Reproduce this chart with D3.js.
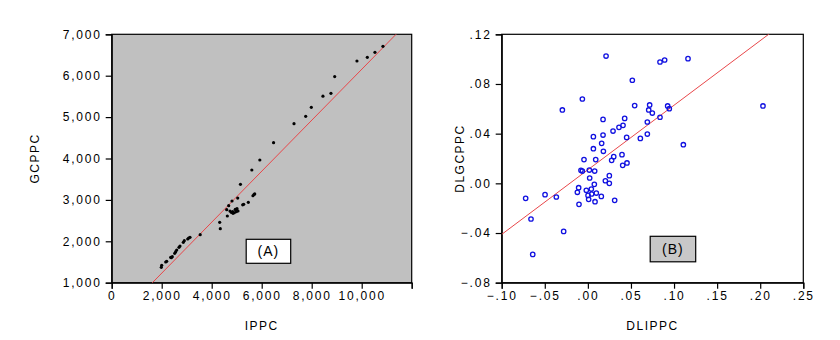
<!DOCTYPE html>
<html>
<head>
<meta charset="utf-8">
<script src="https://cdn.jsdelivr.net/npm/d3@7"></script>
<style>
  body { margin: 0; background: #fff; }
  text { font-family: "Liberation Sans", Arial, sans-serif; fill: #000; }
</style>
</head>
<body>
<div id="chart"></div>
<script>
// Panel A: IPPC (x) vs GCPPC (y)
const ippc = [10850, 10530, 10225, 9810, 8920, 8770, 8450, 7985, 7760, 7292, 6475, 5925, 5605, 5150,
  5690, 5650, 5720, 5465, 5280, 5240, 5040, 4812, 4680, 4600, 4625, 4732, 4784, 4852, 4904, 4960,
  5012, 4984, 5052, 4944, 4840, 4320, 4344, 3540, 3132, 3080, 3040, 2904, 2864, 2732, 2692, 2600,
  2560, 2520, 2424, 2384, 2360, 2200, 2160, 2000, 1984];
const gcppc = [6710, 6565, 6445, 6355, 5980, 5575, 5505, 5236, 5018, 4840, 4382, 3964, 3722, 3376,
  3130, 3100, 3145, 2941, 2893, 2880, 3045, 2973, 2860, 2763, 2611, 2732, 2700, 2676, 2690, 2756,
  2787, 2715, 2732, 2772, 2715, 2459, 2304, 2159, 2096, 2080, 2055, 2014, 1976, 1886, 1855, 1790,
  1749, 1710, 1628, 1604, 1613, 1517, 1500, 1420, 1372];
const fitA = { intercept: -2, slope: 0.6156 };
const xTicksA = [0, 2000, 4000, 6000, 8000, 10000, 12000];
const yTicksA = [1000, 2000, 3000, 4000, 5000, 6000, 7000];

// Panel B: DLIPPC (x) vs DLGCPPC (y)
const dlippc = [0.0211, 0.0837, 0.0891, 0.1162, 0.0516, -0.0064, -0.0296, 0.0543, 0.0717, 0.0706,
  0.0748, 0.0926, 0.0945, 0.0837, 0.2032, 0.0176, 0.0427, 0.0690, 0.0408, 0.0361, 0.0292, 0.0176,
  0.0064, 0.0450, 0.0609, 0.0690, 0.1108, 0.0160, 0.0064, 0.0180, 0.0396, 0.0300, 0.0276, -0.0045,
  0.0091, 0.0404, 0.0454, -0.0080, -0.0064, 0.0017, 0.0079, 0.0021, 0.0249, 0.0203, 0.0249, 0.0075,
  -0.0107, -0.0122, -0.0018, 0.0040, 0.0098, 0.0044, 0.0002, 0.0156, 0.0009, 0.0083, 0.0311,
  -0.0103, -0.0497, -0.0366, -0.0722, -0.0660, -0.0281, -0.0640];
const dlgcppc = [0.1025, 0.0977, 0.0993, 0.1004, 0.0830, 0.0679, 0.0591, 0.0626, 0.0631, 0.0591,
  0.0566, 0.0623, 0.0601, 0.0532, 0.0623, 0.0515, 0.0523, 0.0494, 0.0467, 0.0451, 0.0421, 0.0389,
  0.0376, 0.0370, 0.0362, 0.0397, 0.0311, 0.0322, 0.0279, 0.0258, 0.0231, 0.0215, 0.0185, 0.0191,
  0.0191, 0.0145, 0.0164, 0.0105, 0.0099, 0.0107, 0.0099, 0.0043, 0.0062, 0.0021, 0.0000, -0.0008,
  -0.0035, -0.0072, -0.0056, -0.0046, -0.0078, -0.0086, -0.0097, -0.0105, -0.0129, -0.0148, -0.0137,
  -0.0169, -0.0091, -0.0110, -0.0121, -0.0287, -0.0387, -0.0572];
const fitB = { intercept: 0.0109, slope: 0.52 };
const xTicksB = [-0.10, -0.05, 0.00, 0.05, 0.10, 0.15, 0.20, 0.25];
const yTicksB = [-0.08, -0.04, 0.00, 0.04, 0.08, 0.12];

const svg = d3.select('#chart').append('svg')
  .attr('width', 840)
  .attr('height', 340);

const commaFmt = d3.format(',');
const decFmt = v => d3.format('.2f')(v).replace('0.', '.');

function drawPanel(opt) {
  const { left, top, width, height } = opt;
  const g = svg.append('g').attr('transform', `translate(${left},${top})`);

  const x = d3.scaleLinear().domain(opt.xDomain).range([0, width]);
  const y = d3.scaleLinear().domain(opt.yDomain).range([height, 0]);

  // plot background and frame
  g.append('rect')
    .attr('width', width)
    .attr('height', height)
    .attr('fill', opt.bg)
    .attr('stroke', '#000')
    .attr('stroke-width', 1.2);

  const clipId = 'clip-' + opt.id;
  g.append('clipPath').attr('id', clipId)
    .append('rect').attr('width', width).attr('height', height);

  // axes
  const xAxis = g.append('g')
    .attr('transform', `translate(0,${height})`)
    .call(d3.axisBottom(x).tickValues(opt.xTicks).tickSize(6).tickPadding(3)
      .tickFormat(opt.xLabelFn));
  const yAxis = g.append('g')
    .call(d3.axisLeft(y).tickValues(opt.yTicks).tickSize(6).tickPadding(4)
      .tickFormat(opt.yFmt));
  [xAxis, yAxis].forEach(a => {
    a.select('.domain').attr('stroke-width', 1.2);
    a.selectAll('line').attr('stroke-width', 1.2);
    a.selectAll('text')
      .style('font-family', '"Liberation Sans", Arial, sans-serif')
      .style('font-size', '12px')
      .style('letter-spacing', '1.8px');
  });

  // regression line
  const [x0, x1] = opt.xDomain;
  g.append('line')
    .attr('clip-path', `url(#${clipId})`)
    .attr('x1', x(x0)).attr('y1', y(opt.fit.intercept + opt.fit.slope * x0))
    .attr('x2', x(x1)).attr('y2', y(opt.fit.intercept + opt.fit.slope * x1))
    .attr('stroke', '#e8474a')
    .attr('stroke-width', 1);

  // points
  const pts = d3.zip(opt.xs, opt.ys);
  const dots = g.append('g').selectAll('circle')
    .data(pts)
    .enter()
    .append('circle')
    .attr('cx', d => x(d[0]))
    .attr('cy', d => y(d[1]));
  opt.styleDots(dots);

  // annotation box
  const b = opt.box;
  g.append('rect')
    .attr('x', b.x).attr('y', b.y)
    .attr('width', b.w).attr('height', b.h)
    .attr('fill', b.fill)
    .attr('stroke', '#000')
    .attr('stroke-width', 1.2);
  g.append('text')
    .attr('x', b.x + b.w / 2)
    .attr('y', b.y + b.h / 2 + 5)
    .attr('text-anchor', 'middle')
    .style('font-size', '14px')
    .style('letter-spacing', '1px')
    .text(b.label);

  // axis titles
  g.append('text')
    .attr('x', width / 2)
    .attr('y', height + 47)
    .attr('text-anchor', 'middle')
    .style('font-size', '12px')
    .style('letter-spacing', '1.5px')
    .text(opt.xTitle);
  g.append('text')
    .attr('transform', 'rotate(-90)')
    .attr('x', -height / 2)
    .attr('y', opt.yTitleOffset)
    .attr('text-anchor', 'middle')
    .style('font-size', '12px')
    .style('letter-spacing', '1.5px')
    .text(opt.yTitle);
}

drawPanel({
  id: 'a', left: 111.7, top: 34.3, width: 300, height: 248.4,
  xDomain: [0, 12000], yDomain: [1000, 7000],
  xTicks: xTicksA, yTicks: yTicksA,
  xLabelFn: v => v === 12000 ? '' : commaFmt(v),
  yFmt: commaFmt,
  bg: '#c0c0c0',
  fit: fitA, xs: ippc, ys: gcppc,
  styleDots: s => s.attr('r', 1.6).attr('fill', '#000'),
  box: { x: 134.5, y: 205, w: 44.5, h: 24, fill: '#fff', label: '(A)' },
  xTitle: 'IPPC', yTitle: 'GCPPC', yTitleOffset: -72.5
});

drawPanel({
  id: 'b', left: 501.7, top: 34.3, width: 301.6, height: 248.4,
  xDomain: [-0.10, 0.25], yDomain: [-0.08, 0.12],
  xTicks: xTicksB, yTicks: yTicksB,
  xLabelFn: decFmt,
  yFmt: decFmt,
  bg: '#fff',
  fit: fitB, xs: dlippc, ys: dlgcppc,
  styleDots: s => s.attr('r', 2.2).attr('fill', 'none').attr('stroke', '#1010e0').attr('stroke-width', 1.3),
  box: { x: 148.5, y: 202, w: 45.5, h: 25.5, fill: '#c8c8c8', label: '(B)' },
  xTitle: 'DLIPPC', yTitle: 'DLGCPPC', yTitleOffset: -37.5
});
</script>
</body>
</html>
